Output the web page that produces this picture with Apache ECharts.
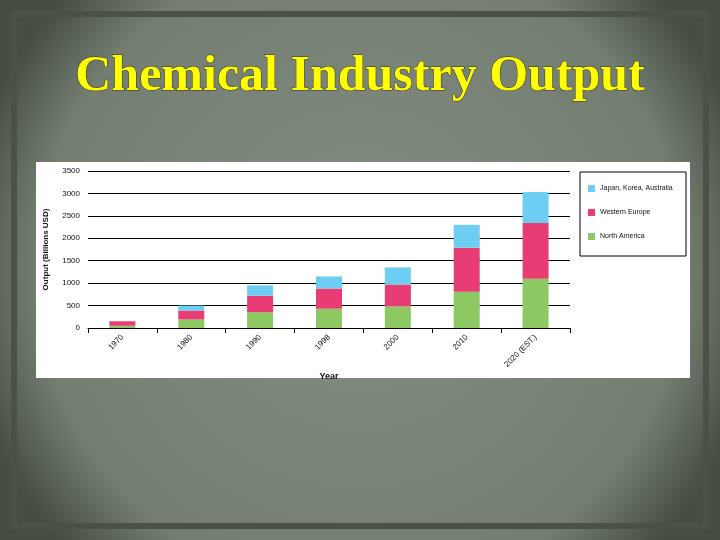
<!DOCTYPE html>
<html><head><meta charset="utf-8">
<script src="https://cdn.jsdelivr.net/npm/echarts@6/dist/echarts.min.js"></script>
<style>html,body{margin:0;padding:0;}#c{width:720px;height:540px;}</style>
</head><body><div id="c"></div>
<script>
const categories = ['1970','1980','1990','1998','2000','2010','2020 (EST.)'];
const northAmerica = [50,190,350,430,480,810,1100];
const westernEurope = [100,200,370,450,490,980,1240];
const japanKoreaAustralia = [0,110,230,270,380,510,690];
const yTicks = [0,500,1000,1500,2000,2500,3000,3500];

const chart = echarts.init(document.getElementById('c'));
const lbl = {fontFamily:'Liberation Sans',fontSize:8,color:'#111'};
chart.setOption({
  animation:false,
  backgroundColor:{type:'radial',x:0.5,y:0.5,r:0.75,colorStops:[{offset:0,color:'#858e83'},{offset:0.8,color:'#737d70'},{offset:1,color:'#454d42'}]},
  graphic:[
    {type:'rect',shape:{x:14,y:14,width:692,height:512},style:{fill:'none',stroke:'#4a5247',lineWidth:6},z:0},
    {type:'text',left:'center',top:52,style:{text:'Chemical Industry Output',font:'bold 50px "Liberation Serif"',fill:'#ffff00',stroke:'#333',lineWidth:1,shadowColor:'rgba(0,0,0,0.8)',shadowBlur:3,shadowOffsetX:2,shadowOffsetY:2}},
    {type:'rect',shape:{x:36,y:162,width:654,height:216},style:{fill:'#fff'},z:-1},
    {type:'rect',shape:{x:580,y:172,width:106,height:84},style:{fill:'#fff',stroke:'#000',lineWidth:1},z:1}
  ],
  grid:{left:88,right:150,top:171,bottom:212},
  legend:{top:180,orient:'vertical',itemGap:17,itemWidth:7,itemHeight:7,icon:'rect',textStyle:{fontFamily:'Liberation Sans',fontSize:7,color:'#111'},data:['Japan, Korea, Australia','Western Europe','North America'],left:583,z:2},
  xAxis:{type:'category',data:categories,axisLine:{lineStyle:{color:'#000'}},axisTick:{show:true,lineStyle:{color:'#000'}},axisLabel:Object.assign({rotate:45,interval:0,margin:8},lbl),name:'Year',nameLocation:'middle',nameGap:36,nameTextStyle:{fontFamily:'Liberation Sans',fontSize:9,fontWeight:'bold',color:'#111'}},
  yAxis:{type:'value',min:0,max:3500,interval:500,axisLabel:Object.assign({formatter:v=>String(v)},lbl),splitLine:{lineStyle:{color:'#000',width:1}},axisLine:{show:false},name:'Output (Billions USD)',nameLocation:'middle',nameGap:38,nameRotate:90,nameTextStyle:{fontFamily:'Liberation Sans',fontSize:8,fontWeight:'bold',color:'#111'}},
  series:[
    {name:'North America',type:'bar',stack:'a',barWidth:26,data:northAmerica,itemStyle:{color:'#8cc963'}},
    {name:'Western Europe',type:'bar',stack:'a',data:westernEurope,itemStyle:{color:'#e83c74'}},
    {name:'Japan, Korea, Australia',type:'bar',stack:'a',data:japanKoreaAustralia,itemStyle:{color:'#6dcdf3'}}
  ]
});
</script></body></html>
